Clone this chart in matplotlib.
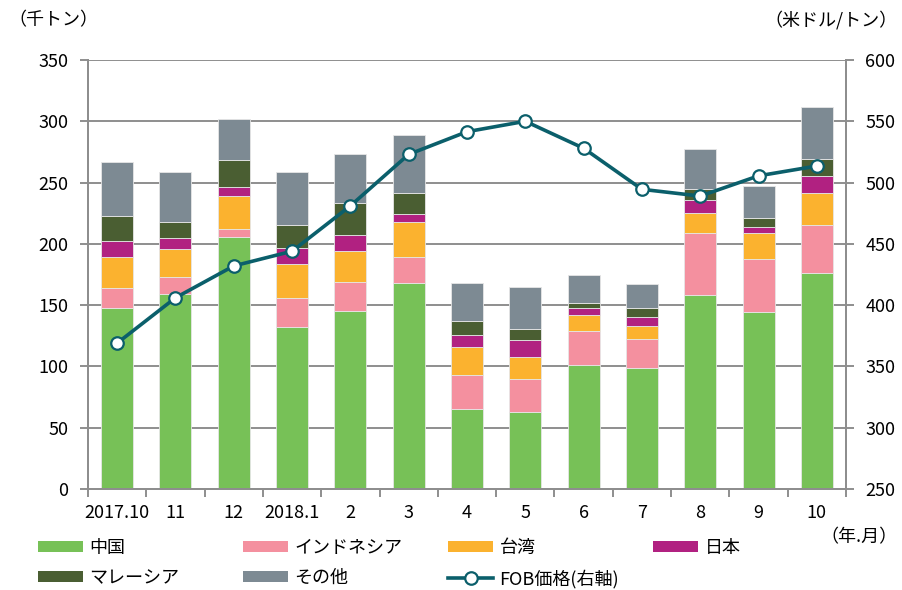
import numpy as np
import matplotlib
matplotlib.use('Agg')
import matplotlib.pyplot as plt
from matplotlib.patches import Patch
from matplotlib.lines import Line2D

plt.rcParams['font.family'] = ['Noto Sans CJK JP', 'DejaVu Sans']

# data (thousand tons / USD per ton)
months = ['2017.10', '11', '12', '2018.1', '2', '3', '4', '5', '6', '7', '8', '9', '10']
china = [148, 159, 206, 132, 145.5, 168, 65, 62.5, 101.5, 98.5, 158, 144.5, 176.5]
indonesia = [16, 14, 6, 24, 23.5, 21, 28, 27.5, 27.5, 23.5, 50.5, 43, 38.5]
taiwan = [25, 23, 27, 27.5, 25, 28.5, 22.5, 17.5, 13, 11, 17, 21.5, 26.5]
japan = [13, 9, 7, 13, 13.5, 6.5, 10, 14, 6, 7, 10.5, 4.5, 14]
malaysia = [21, 12.5, 22.5, 19, 26, 17.5, 11.5, 9, 3.5, 8, 9, 7.5, 13.5]
others = [44, 41, 33.5, 43, 40, 47, 31, 34, 23, 19, 32, 26, 42.5]
fob = [369, 406, 432, 444, 481, 523, 541.5, 550, 528, 494.5, 489, 505.5, 513.5]

series = [china, indonesia, taiwan, japan, malaysia, others]
names = ['中国', 'インドネシア', '台湾', '日本', 'マレーシア', 'その他']
colors = ['#77c157', '#f4909f', '#fbb22f', '#b12181', '#4a5e32', '#7d8a93']
line_color = '#0b5f6b'
grid_color = '#8e8e8e'
fs = 13

fig = plt.figure(figsize=(9.02, 5.9), dpi=100)
ax = fig.add_axes([88 / 902, 101 / 590, 758 / 902, 429 / 590])

x = np.arange(len(months))
bottom = np.zeros(len(months))
for vals, name, c in zip(series, names, colors):
    ax.bar(x, vals, 0.55, bottom=bottom, color=c, edgecolor='#e6e6e6',
           linewidth=0.6, label=name)
    bottom += np.array(vals)

ax.set_xlim(-0.5, len(months) - 0.5)
ax.set_ylim(0, 350)
ax.set_yticks(np.arange(0, 351, 50))
ax.set_axisbelow(True)
ax.yaxis.grid(True, color=grid_color, linewidth=1.4)

ax.set_xticks(x)
ax.set_xticklabels(months)
ax.set_xticks(np.arange(-0.5, len(months), 1), minor=True)
ax.tick_params(axis='x', which='major', length=0, pad=11, labelsize=fs)
ax.tick_params(axis='x', which='minor', length=6, width=1.4, color=grid_color)
ax.tick_params(axis='y', length=6, width=1.4, color=grid_color, labelsize=fs, pad=8)

ax2 = ax.twinx()
ax2.plot(x, fob, color=line_color, linewidth=2.6, marker='o', markersize=9,
         markerfacecolor='white', markeredgecolor=line_color, markeredgewidth=1.6)
ax2.set_ylim(250, 600)
ax2.set_yticks(np.arange(250, 601, 50))
ax2.tick_params(axis='y', length=6, width=1.4, color=grid_color, labelsize=fs, pad=8)

for a in (ax, ax2):
    a.spines['top'].set_visible(False)
    for s in ('left', 'right', 'bottom'):
        a.spines[s].set_color(grid_color)
        a.spines[s].set_linewidth(1.4)

fig.text(8 / 902, 1 - 20 / 590, '（千トン）', fontsize=fs, va='center', ha='left')
fig.text(898 / 902, 1 - 20 / 590, '（米ドル/トン）', fontsize=fs, va='center', ha='right')
fig.text(898 / 902, 1 - 537 / 590, '（年.月）', fontsize=fs, va='center', ha='right')

# legend, one column at a time so the columns sit where they do in the original
handles = [Patch(facecolor=c, edgecolor='none') for c in colors]
fob_handle = Line2D([], [], color=line_color, linewidth=2.6, marker='o', markersize=9,
                    markerfacecolor='white', markeredgecolor=line_color,
                    markeredgewidth=1.6)
cols = [
    ([handles[0], handles[4]], [names[0], names[4]]),
    ([handles[1], handles[5]], [names[1], names[5]]),
    ([handles[2], fob_handle], [names[2], 'FOB価格(右軸)']),
    ([handles[3]], [names[3]]),
]
col_x = [38, 243, 448, 653]
for (h, l), cx in zip(cols, col_x):
    fig.legend(h, l, loc='upper left', bbox_to_anchor=(cx / 902, 1 - 539 / 590),
               frameon=False, fontsize=fs, handlelength=2.5, handleheight=0.55,
               handletextpad=0.35, labelspacing=0.68, borderpad=0, borderaxespad=0)

fig.savefig('out.png', dpi=100)
